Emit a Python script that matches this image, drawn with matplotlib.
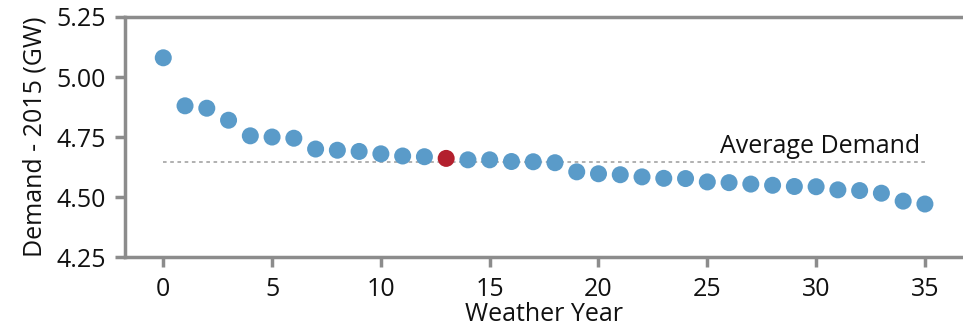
import numpy as np
import matplotlib.pyplot as plt

# weather years and demand values (GW)
years = np.arange(36)
demand = [5.08, 4.88, 4.87, 4.82, 4.755, 4.75, 4.745, 4.70, 4.695, 4.69,
          4.68, 4.671, 4.668, 4.661, 4.655, 4.655, 4.648, 4.647, 4.643, 4.605,
          4.597, 4.593, 4.584, 4.578, 4.577, 4.563, 4.560, 4.554, 4.549, 4.544,
          4.543, 4.530, 4.527, 4.516, 4.483, 4.471]
highlight_year = 13
avg_demand = 4.647
yticks = [4.25, 4.50, 4.75, 5.00, 5.25]
xticks = [0, 5, 10, 15, 20, 25, 30, 35]

plt.rcParams['font.family'] = ['Open Sans', 'DejaVu Sans']

blue = '#5a9bc9'
red = '#b3202e'
grey = '#8c8c8c'
fs = 18

fig = plt.figure(figsize=(9.63, 3.33), dpi=100)
ax = fig.add_axes([0.13, 0.228, 0.87, 0.721])

colors = [red if y == highlight_year else blue for y in years]
ax.scatter(years, demand, s=150, c=colors, edgecolors='none', zorder=3)

# average demand line
ax.plot([years[0], years[-1]], [avg_demand, avg_demand], color='#aaaaaa',
        lw=1.3, linestyle=(0, (2, 2)), zorder=1)
ax.text(years[-1] - 0.2, avg_demand + 0.012, 'Average Demand', ha='right',
        va='bottom', fontsize=fs, color='#111111')

ax.set_xlim(-1.75, 36.75)
ax.set_ylim(4.25, 5.25)
ax.set_xticks(xticks)
ax.set_yticks(yticks)
ax.set_yticklabels([f'{v:.2f}' for v in yticks])

for side in ['left', 'top', 'bottom']:
    ax.spines[side].set_color(grey)
    ax.spines[side].set_linewidth(2.5)
ax.spines['right'].set_visible(False)
ax.tick_params(axis='both', colors=grey, width=2.5, length=7, labelsize=fs,
               labelcolor='#111111', pad=7)

ax.set_xlabel('Weather Year', fontsize=fs, color='#111111', labelpad=0)
ax.set_ylabel('Demand - 2015 (GW)', fontsize=fs, color='#111111', labelpad=6)

fig.savefig('out.png', dpi=100)
